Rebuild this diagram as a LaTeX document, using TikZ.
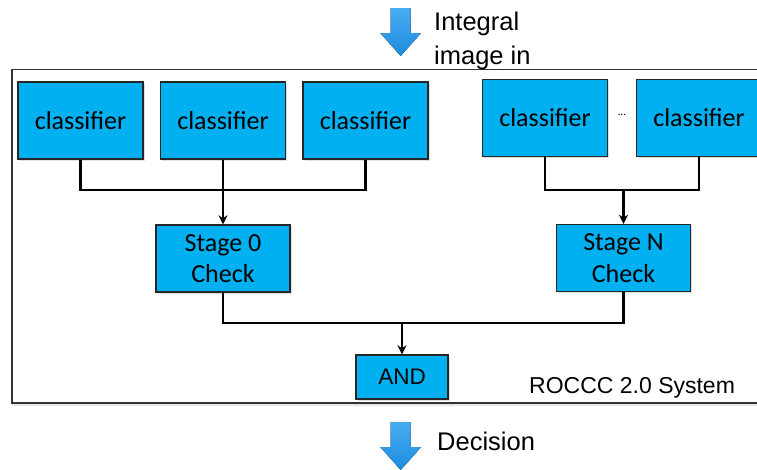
\documentclass[tikz,border=0pt]{standalone}
\usepackage{fontspec}
\setmainfont{Liberation Sans}
\newfontfamily\calibri{Carlito}
\usetikzlibrary{positioning, arrows.meta, shadows}
\definecolor{boxblue}{RGB}{0,176,240}
\definecolor{flowtop}{RGB}{72,172,242}
\definecolor{flowbot}{RGB}{28,140,222}

\begin{document}
\begin{tikzpicture}[x=1pt, y=-1pt, on grid,
  blk/.style={draw=black!85, line width=1.4pt, fill=boxblue, align=center, inner sep=0pt,
    font=\calibri\fontsize{26}{31.7}\selectfont,
    drop shadow={shadow xshift=1.5pt, shadow yshift=-1.5pt, opacity=.25}},
  cls/.style={blk, minimum width=125pt, minimum height=77pt},
  chk/.style={blk, minimum width=134pt, minimum height=67pt},
  wire/.style={line width=2.2pt},
  tip/.style={wire, -{Stealth[length=9pt, width=9pt]}},
  flow/.style={top color=flowtop, bottom color=flowbot, draw=none},
  lbl/.style={font=\fontsize{25.5}{34}\selectfont, inner sep=0pt}]
  \useasboundingbox (0,0) rectangle (757,469);

  % system frame
  \draw[line width=1.6pt, draw=black!80, fill=white,
    drop shadow={shadow xshift=0pt, shadow yshift=-2.5pt, opacity=.2}] (12,69.5) rectangle (775,403);

  % data in / out
  \fill[flow, shift={(400.7,8)}] (-10,0) -- (10,0) -- (10,25) -- (20.5,25) -- (0,48) -- (-20.5,25) -- (-10,25) -- cycle;
  \fill[flow, shift={(400.7,422)}] (-10,0) -- (10,0) -- (10,25) -- (20.5,25) -- (0,48) -- (-20.5,25) -- (-10,25) -- cycle;
  \node[lbl, anchor=north west, align=left] (inlbl) at (434,12) {Integral\\image in};
  \node[lbl, anchor=base west] (outlbl) at (437,450) {Decision};
  \node[lbl, font=\fontsize{23}{27}\selectfont, anchor=base west] (sys) at (529,393) {ROCCC 2.0 System};

  % classifiers
  \node[cls] (c1) at (80.5,120.5) {classifier};
  \node[cls] (c2) [right=142.5pt of c1] {classifier};
  \node[cls] (c3) [right=142.5pt of c2] {classifier};
  \node[cls] (c4) at (545,118) {classifier};
  \node[cls] (c5) [right=154pt of c4] {classifier};
  \node[font=\calibri\fontsize{11}{11}\selectfont, inner sep=0pt] (dots) at (622,115) {\dots};

  % stage checks
  \node[chk] (s0) [below=138pt of c2] {Stage 0\\Check};
  \node[chk] (sN) at (623.5,258) {Stage N\\Check};
  \node[blk, font=\fontsize{22.5}{27}\selectfont, minimum width=92pt, minimum height=44pt] (and) at (402,377) {AND};

  \coordinate (j0) at (223,190);
  \coordinate (jN) at (623.5,190);
  \coordinate (jA) at (402,323);

  \draw[wire] (c1) |- (j0) -| (c3);
  \draw[wire] (c4) |- (jN) -| (c5);
  \draw[wire] (s0) |- (jA) -| (sN);
  \path[tip]
  (c2) edge (s0)
  (jN) edge (sN)
  (jA) edge (and)
  ;
\end{tikzpicture}
\end{document}
